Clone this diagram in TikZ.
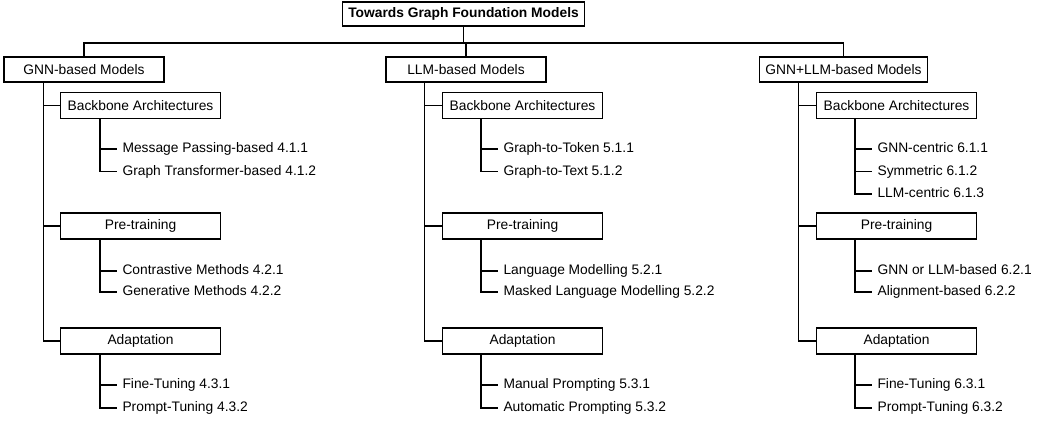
\documentclass[tikz,border=0pt]{standalone}
\usepackage{fontspec}
\setmainfont{Liberation Sans}
\usetikzlibrary{calc}
\begin{document}
\begin{tikzpicture}[x=0.75pt,y=-0.75pt,
  font=\fontsize{10.35}{12.4}\selectfont,
  every path/.style={line width=0.8pt},
  rootbox/.style={draw, line width=0.8pt, inner xsep=4pt, minimum height=18pt, font=\fontsize{10.35}{12.4}\selectfont\bfseries},
  topbox/.style={draw, line width=0.8pt, inner xsep=4.5pt, minimum width=120pt, minimum height=18.75pt},
  subbox/.style={draw, line width=0.8pt, inner xsep=4.5pt, minimum width=120pt, minimum height=19.5pt, anchor=west},
  leaf/.style={anchor=west, inner xsep=3.75pt, inner ysep=0pt, text height=0.74em, text depth=0.2em},
  conn/.style={line width=0.8pt}]
\useasboundingbox (0,0) rectangle (1044,422);

\node[rootbox] (root) at (463.5,14) {Towards Graph Foundation Models};
\node[topbox] (gnn) at (84,69.5) {GNN-based Models};
\node[topbox] (llm) at (466,69.5) {LLM-based Models};
\node[topbox] (hyb) at (843.5,69.5) {GNN+LLM-based Models};
\coordinate (bus) at (0,43);
\draw[conn] (root.south) -- (root.south |- bus);
\draw[conn] (gnn.north) -- (gnn.north |- bus) -- (hyb.north |- bus) -- (hyb.north);
\draw[conn] (llm.north) -- (llm.north |- bus);

% ---------- GNN column ----------
\node[subbox] (gba) at (60,105.3) {Backbone Architectures};
\node[subbox] (gpt) at (60,226) {Pre-training};
\node[subbox] (gad) at (60,341) {Adaptation};
\coordinate (gt) at ($(gnn.south west)+(40,0)$);
\draw[conn] (gt) |- (gad.west);
\draw[conn] (gt |- gba.west) -- (gba.west);
\draw[conn] (gt |- gpt.west) -- (gpt.west);

\node[leaf] (g11) at (117,149) {Message Passing-based 4.1.1};
\node[leaf] (g12) at (117,171.5) {Graph Transformer-based 4.1.2};
\coordinate (gbv) at ($(gba.south west)+(40,0)$);
\draw[conn] (gbv) |- (g12.west);
\draw[conn] (gbv |- g11.west) -- (g11.west);

\node[leaf] (g21) at (117,271) {Contrastive Methods 4.2.1};
\node[leaf] (g22) at (117,292) {Generative Methods 4.2.2};
\coordinate (gpv) at ($(gpt.south west)+(40,0)$);
\draw[conn] (gpv) |- (g22.west);
\draw[conn] (gpv |- g21.west) -- (g21.west);

\node[leaf] (g31) at (117,385) {Fine-Tuning 4.3.1};
\node[leaf] (g32) at (117,408) {Prompt-Tuning 4.3.2};
\coordinate (gav) at ($(gad.south west)+(40,0)$);
\draw[conn] (gav) |- (g32.west);
\draw[conn] (gav |- g31.west) -- (g31.west);

% ---------- LLM column ----------
\node[subbox] (lba) at (442,105.3) {Backbone Architectures};
\node[subbox] (lpt) at (442,226) {Pre-training};
\node[subbox] (lad) at (442,341) {Adaptation};
\coordinate (lt) at ($(llm.south west)+(39,0)$);
\draw[conn] (lt) |- (lad.west);
\draw[conn] (lt |- lba.west) -- (lba.west);
\draw[conn] (lt |- lpt.west) -- (lpt.west);

\node[leaf] (l11) at (498,149) {Graph-to-Token 5.1.1};
\node[leaf] (l12) at (498,171.5) {Graph-to-Text 5.1.2};
\coordinate (lbv) at ($(lba.south west)+(39,0)$);
\draw[conn] (lbv) |- (l12.west);
\draw[conn] (lbv |- l11.west) -- (l11.west);

\node[leaf] (l21) at (498,271) {Language Modelling 5.2.1};
\node[leaf] (l22) at (498,292) {Masked Language Modelling 5.2.2};
\coordinate (lpv) at ($(lpt.south west)+(39,0)$);
\draw[conn] (lpv) |- (l22.west);
\draw[conn] (lpv |- l21.west) -- (l21.west);

\node[leaf] (l31) at (498,385) {Manual Prompting 5.3.1};
\node[leaf] (l32) at (498,408) {Automatic Prompting 5.3.2};
\coordinate (lav) at ($(lad.south west)+(39,0)$);
\draw[conn] (lav) |- (l32.west);
\draw[conn] (lav |- l31.west) -- (l31.west);

% ---------- GNN+LLM column ----------
\node[subbox] (hba) at (816,105.3) {Backbone Architectures};
\node[subbox] (hpt) at (816,226) {Pre-training};
\node[subbox] (had) at (816,341) {Adaptation};
\coordinate (ht) at ($(hyb.south west)+(40,0)$);
\draw[conn] (ht) |- (had.west);
\draw[conn] (ht |- hba.west) -- (hba.west);
\draw[conn] (ht |- hpt.west) -- (hpt.west);

\node[leaf] (h11) at (872,149) {GNN-centric 6.1.1};
\node[leaf] (h12) at (872,171.5) {Symmetric 6.1.2};
\node[leaf] (h13) at (872,194) {LLM-centric 6.1.3};
\coordinate (hbv) at ($(hba.south west)+(39,0)$);
\draw[conn] (hbv) |- (h13.west);
\draw[conn] (hbv |- h11.west) -- (h11.west);
\draw[conn] (hbv |- h12.west) -- (h12.west);

\node[leaf] (h21) at (872,271) {GNN or LLM-based 6.2.1};
\node[leaf] (h22) at (872,292) {Alignment-based 6.2.2};
\coordinate (hpv) at ($(hpt.south west)+(39,0)$);
\draw[conn] (hpv) |- (h22.west);
\draw[conn] (hpv |- h21.west) -- (h21.west);

\node[leaf] (h31) at (872,385) {Fine-Tuning 6.3.1};
\node[leaf] (h32) at (872,408) {Prompt-Tuning 6.3.2};
\coordinate (hav) at ($(had.south west)+(39,0)$);
\draw[conn] (hav) |- (h32.west);
\draw[conn] (hav |- h31.west) -- (h31.west);
\end{tikzpicture}
\end{document}
